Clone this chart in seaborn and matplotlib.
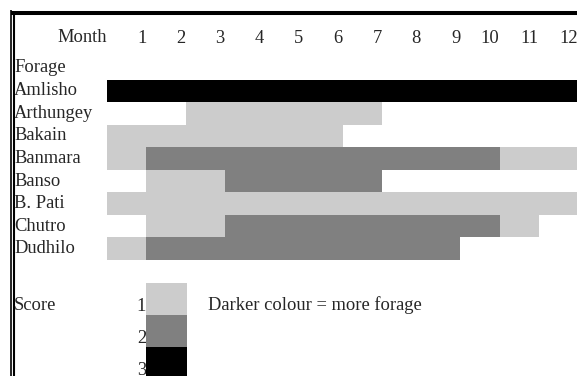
#!/usr/bin/env python3
# coding: utf-8

import numpy as np
import pandas as pd
import matplotlib
matplotlib.use("Agg")
import matplotlib.pyplot as plt
from matplotlib.colors import ListedColormap
from matplotlib.lines import Line2D
import seaborn as sns

# forage score per month, 0 = no forage (left blank)
months = [str(m) for m in range(1, 13)]
forages = ["Amlisho", "Arthungey", "Bakain", "Banmara", "Banso", "B. Pati", "Chutro", "Dudhilo"]
amlisho = [3, 3, 3, 3, 3, 3, 3, 3, 3, 3, 3, 3]
arthungey = [0, 0, 1, 1, 1, 1, 1, 0, 0, 0, 0, 0]
bakain = [1, 1, 1, 1, 1, 1, 0, 0, 0, 0, 0, 0]
banmara = [1, 2, 2, 2, 2, 2, 2, 2, 2, 2, 1, 1]
banso = [0, 1, 1, 2, 2, 2, 2, 0, 0, 0, 0, 0]
b_pati = [1, 1, 1, 1, 1, 1, 1, 1, 1, 1, 1, 1]
chutro = [0, 1, 1, 2, 2, 2, 2, 2, 2, 2, 1, 0]
dudhilo = [1, 2, 2, 2, 2, 2, 2, 2, 2, 0, 0, 0]
scores = [1, 2, 3]

score_colours = ["#cccccc", "#808080", "#000000"]

sns.set_style("white")
plt.rcParams["font.family"] = ["Liberation Serif", "DejaVu Serif"]
plt.rcParams["font.size"] = 13.3

W, H = 577, 376  # figure size in px


def fx(px):
    return px / W


def fy(py):
    return 1 - py / H


df = pd.DataFrame([amlisho, arthungey, bakain, banmara, banso, b_pati, chutro, dudhilo],
                  index=forages, columns=months)

cmap = ListedColormap(score_colours)

fig = plt.figure(figsize=(W / 100, H / 100), dpi=100)

# main table
ax = fig.add_axes([fx(107), fy(260), fx(578) - fx(107), fy(79.5) - fy(260)])
sns.heatmap(df, mask=(df == 0), cmap=cmap, vmin=0.5, vmax=3.5, cbar=False, ax=ax,
            linewidths=0, xticklabels=True, yticklabels=True)
ax.xaxis.tick_top()
ax.set_xticks(np.arange(1, 13))
ax.set_xticklabels(months, rotation=0, ha="right")
ax.set_yticklabels(forages, rotation=0, ha="left", va="center")
ax.tick_params(axis="x", length=0, pad=23.4)
ax.tick_params(axis="y", length=0, pad=(107 - 14) * 0.72)
ax.set_xlabel("")
ax.set_ylabel("")
for s in ax.spines.values():
    s.set_visible(False)

# score key
ax2 = fig.add_axes([fx(146), fy(379), fx(187) - fx(146), fy(283) - fy(379)])
key = pd.DataFrame({"Score": scores}, index=[str(s) for s in scores])
sns.heatmap(key, cmap=cmap, vmin=0.5, vmax=3.5, cbar=False, ax=ax2,
            linewidths=0, xticklabels=False, yticklabels=True)
ax2.set_yticks([i + 0.72 for i in range(len(scores))])
ax2.set_yticklabels([str(s) for s in scores], rotation=0, ha="right", va="center")
ax2.tick_params(axis="y", length=0, pad=0)
ax2.set_ylabel("")
for s in ax2.spines.values():
    s.set_visible(False)

fig.text(fx(107), fy(37), "Month", ha="right", va="center")
fig.text(fx(14), fy(68), "Forage", ha="left", va="center")
fig.text(fx(14), fy(305), "Score", ha="left", va="center")
fig.text(fx(208), fy(305), "Darker colour = more forage", ha="left", va="center")

# page border (double line on the left, thick on top)
fig.add_artist(Line2D([fx(11), fx(577)], [fy(13), fy(13)], lw=2.9, color="black",
                      transform=fig.transFigure, solid_capstyle="butt"))
fig.add_artist(Line2D([fx(10.5), fx(10.5)], [fy(10), fy(376)], lw=1.2, color="black",
                      transform=fig.transFigure, solid_capstyle="butt"))
fig.add_artist(Line2D([fx(13.5), fx(13.5)], [fy(11), fy(376)], lw=1.5, color="black",
                      transform=fig.transFigure, solid_capstyle="butt"))

fig.savefig("out.png", dpi=100)
